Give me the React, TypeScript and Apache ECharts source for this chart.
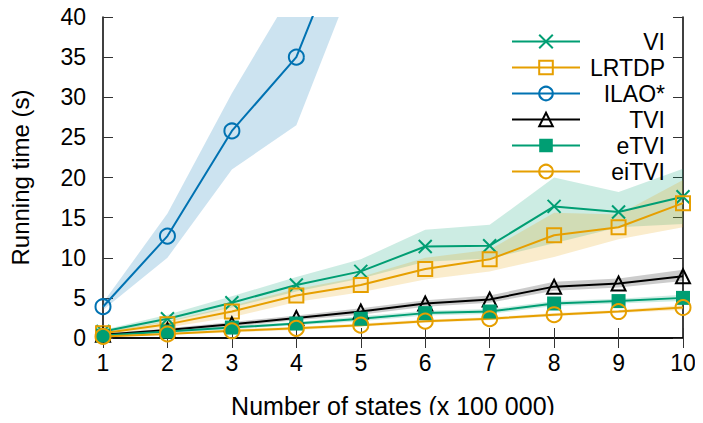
import React, { useEffect, useRef } from "react";
import * as echarts from "echarts";

const states = [1, 2, 3, 4, 5, 6, 7, 8, 9, 10];

const viMean = [0.8, 2.4, 4.4, 6.6, 8.3, 11.4, 11.5, 16.4, 15.7, 17.6];
const viLow = [0.6, 2.0, 3.8, 5.8, 7.4, 9.5, 9.9, 11.8, 13.8, 14.2];
const viHigh = [1.0, 2.9, 5.2, 7.6, 9.8, 13.5, 14.1, 20.0, 18.2, 21.1];

const lrtdpMean = [0.6, 1.7, 3.3, 5.3, 6.6, 8.6, 9.8, 12.8, 13.8, 16.8];
const lrtdpLow = [0.4, 1.3, 2.6, 4.5, 5.7, 7.3, 8.3, 10.1, 12.3, 13.8];
const lrtdpHigh = [0.8, 2.1, 4.0, 6.1, 7.6, 10.0, 11.0, 15.6, 15.4, 19.7];

const ilaoX = [1, 2, 3, 4, 5];
const ilaoMean = [3.9, 12.7, 25.8, 35.0, 55.0];
const ilaoLow = [3.5, 10.0, 21.0, 26.5, 47.0];
const ilaoHigh = [4.4, 15.5, 30.5, 44.0, 65.0];

const tviMean = [0.4, 1.0, 1.7, 2.5, 3.3, 4.3, 4.8, 6.4, 6.8, 7.7];
const tviLow = [0.3, 0.8, 1.4, 2.2, 2.9, 3.9, 4.4, 5.9, 6.3, 7.1];
const tviHigh = [0.5, 1.2, 2.0, 2.8, 3.7, 4.7, 5.3, 7.0, 7.4, 8.5];

const etviMean = [0.3, 0.8, 1.3, 1.8, 2.4, 3.1, 3.3, 4.3, 4.6, 5.0];
const etviLow = [0.2, 0.6, 1.1, 1.6, 2.1, 2.8, 3.0, 4.0, 4.3, 4.6];
const etviHigh = [0.4, 1.0, 1.5, 2.0, 2.7, 3.4, 3.6, 4.6, 4.9, 5.4];

const eitviMean = [0.2, 0.5, 0.9, 1.2, 1.6, 2.1, 2.4, 2.9, 3.3, 3.8];
const eitviLow = [0.1, 0.4, 0.7, 1.0, 1.4, 1.9, 2.2, 2.7, 3.1, 3.5];
const eitviHigh = [0.3, 0.6, 1.1, 1.4, 1.8, 2.3, 2.6, 3.1, 3.5, 4.1];

const yTicks = [0, 5, 10, 15, 20, 25, 30, 35, 40];

const GREEN = "#009E73";
const ORANGE = "#E69F00";
const BLUE = "#0072B2";
const BLACK = "#000000";
const FONT = "Liberation Sans";

function pairs(xs: number[], ys: number[]) {
  return xs.map((x, i) => [x, ys[i]]);
}

function band(id: string, xs: number[], low: number[], high: number[], color: string) {
  const rows = xs.map((x, i) => [x, low[i], high[i]]);
  return {
    name: id,
    type: "custom",
    data: rows,
    encode: { x: 0, y: [1, 2] },
    clip: true,
    silent: true,
    z: 1,
    renderItem: (params: any, api: any) => {
      if (params.dataIndex !== 0) return { type: "group", children: [] };
      const top = rows.map((r) => api.coord([r[0], r[2]]));
      const bottom = rows.map((r) => api.coord([r[0], r[1]])).reverse();
      return {
        type: "polygon",
        shape: { points: top.concat(bottom) },
        style: { fill: color },
      };
    },
  };
}

function mainSeries(
  name: string,
  xs: number[],
  ys: number[],
  color: string,
  symbol: string,
  size: number,
  filled: boolean
) {
  return {
    name,
    type: "line",
    data: pairs(xs, ys),
    symbol,
    symbolSize: size,
    showAllSymbol: true,
    clip: true,
    lineStyle: { color, width: 2 },
    itemStyle: filled
      ? { color, borderColor: color, borderWidth: 0 }
      : { color: "rgba(0,0,0,0)", borderColor: color, borderWidth: 2 },
    z: 3,
  };
}

export default function App() {
  const ref = useRef<HTMLDivElement>(null);
  useEffect(() => {
    if (!ref.current) return;
    const chart = echarts.init(ref.current, undefined, { renderer: "svg" });
    const names = ["VI", "LRTDP", "ILAO*", "TVI", "eTVI", "eiTVI"];
    const axisCommon = {
      type: "value",
      axisLine: { show: true, lineStyle: { color: BLACK, width: 1.5 } },
      axisTick: { show: true, inside: true, length: 10, lineStyle: { color: "#333", width: 1 } },
      splitLine: { show: false },
    };
    chart.setOption({
      animation: false,
      backgroundColor: "#fff",
      grid: { left: 99, right: 20, top: 17, bottom: 81 },
      legend: {
        data: names,
        orient: "vertical",
        right: 33,
        top: 25,
        itemWidth: 68,
        itemHeight: 17,
        itemGap: 3,
        formatter: (n: string) => "{a|" + n + "}",
        textStyle: {
          fontFamily: FONT,
          fontSize: 23,
          color: BLACK,
          rich: {
            a: { width: 80, align: "right", fontFamily: FONT, fontSize: 23, color: BLACK },
          },
        },
        selectedMode: false,
      },
      xAxis: [
        {
          ...axisCommon,
          min: 1,
          max: 10,
          interval: 1,
          name: "Number of states (x 100 000)",
          nameLocation: "middle",
          nameGap: 55,
          nameTextStyle: { fontFamily: FONT, fontSize: 25, color: BLACK },
          axisLabel: { fontFamily: FONT, fontSize: 23, color: BLACK, margin: 13 },
        },
        {
          ...axisCommon,
          position: "top",
          min: 1,
          max: 10,
          interval: 1,
          axisLabel: { show: false },
        },
      ],
      yAxis: [
        {
          ...axisCommon,
          min: 0,
          max: 40,
          interval: 5,
          name: "Running time (s)",
          nameLocation: "middle",
          nameGap: 71,
          nameTextStyle: { fontFamily: FONT, fontSize: 24, color: BLACK },
          axisLabel: {
            fontFamily: FONT,
            fontSize: 23,
            color: BLACK,
            margin: 17,
            formatter: (v: number) => (yTicks.includes(v) ? String(v) : ""),
          },
        },
        {
          ...axisCommon,
          position: "right",
          min: 0,
          max: 40,
          interval: 5,
          axisLabel: { show: false },
        },
      ],
      series: [
        band("ilaoB", ilaoX, ilaoLow, ilaoHigh, "rgba(0,114,178,0.2)"),
        band("viB", states, viLow, viHigh, "rgba(0,158,115,0.2)"),
        band("lrtdpB", states, lrtdpLow, lrtdpHigh, "rgba(230,159,0,0.2)"),
        band("tviB", states, tviLow, tviHigh, "rgba(0,0,0,0.2)"),
        band("etviB", states, etviLow, etviHigh, "rgba(0,158,115,0.2)"),
        band("eitviB", states, eitviLow, eitviHigh, "rgba(230,159,0,0.2)"),
        mainSeries("VI", states, viMean, GREEN, "path://M0,0L10,10M10,0L0,10", 13, false),
        mainSeries("LRTDP", states, lrtdpMean, ORANGE, "rect", 14, false),
        mainSeries("ILAO*", ilaoX, ilaoMean, BLUE, "circle", 15, false),
        mainSeries("TVI", states, tviMean, BLACK, "triangle", 14, false),
        mainSeries("eTVI", states, etviMean, GREEN, "rect", 14, true),
        mainSeries("eiTVI", states, eitviMean, ORANGE, "circle", 15, false),
      ],
    });
    return () => chart.dispose();
  }, []);
  return <div ref={ref} style={{ width: 703, height: 423, margin: -8 }} />;
}
